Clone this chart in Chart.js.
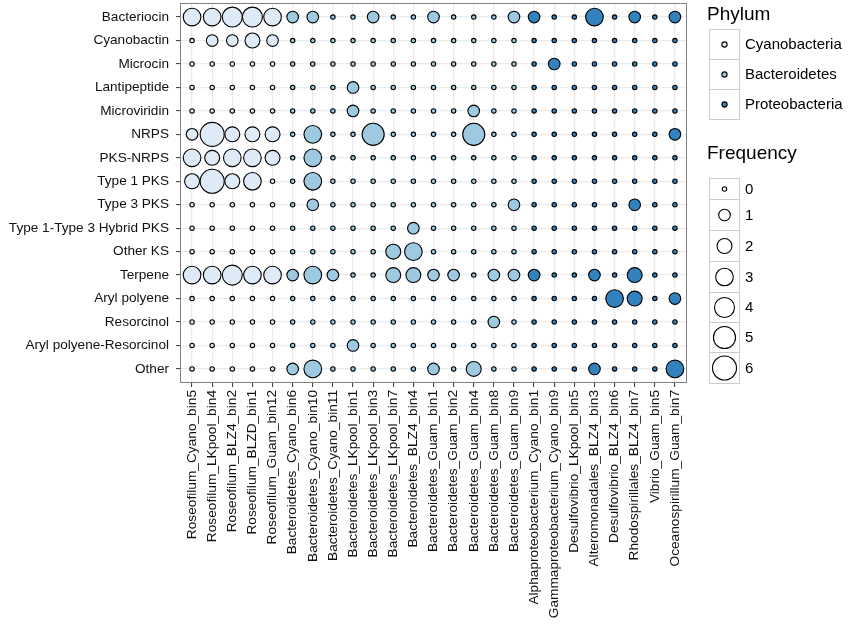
<!DOCTYPE html>
<html>
<head>
<meta charset="utf-8">
<script src="https://cdn.jsdelivr.net/npm/chart.js@4.4.0/dist/chart.umd.min.js"></script>
<style>
  body { margin: 0; background: #fff; }
  canvas { display: block; }
</style>
</head>
<body>
<canvas id="bgcChart" width="856" height="631"></canvas>
<script>
// genome bins along the x axis
var bins = [
  'Roseofilum_Cyano_bin5', 'Roseofilum_LKpool_bin4', 'Roseofilum_BLZ4_bin2', 'Roseofilum_BLZD_bin1',
  'Roseofilum_Guam_bin12', 'Bacteroidetes_Cyano_bin6', 'Bacteroidetes_Cyano_bin10', 'Bacteroidetes_Cyano_bin11',
  'Bacteroidetes_LKpool_bin1', 'Bacteroidetes_LKpool_bin3', 'Bacteroidetes_LKpool_bin7', 'Bacteroidetes_BLZ4_bin4',
  'Bacteroidetes_Guam_bin1', 'Bacteroidetes_Guam_bin2', 'Bacteroidetes_Guam_bin4', 'Bacteroidetes_Guam_bin8',
  'Bacteroidetes_Guam_bin9', 'Alphaproteobacterium_Cyano_bin1', 'Gammaproteobacterium_Cyano_bin9',
  'Desulfovibrio_LKpool_bin5', 'Alteromonadales_BLZ4_bin3', 'Desulfovibrio_BLZ4_bin6', 'Rhodospirillales_BLZ4_bin7',
  'Vibrio_Guam_bin5', 'Oceanospirillum_Guam_bin7'
];

var binPhylum = [
  'Cyanobacteria', 'Cyanobacteria', 'Cyanobacteria', 'Cyanobacteria', 'Cyanobacteria',
  'Bacteroidetes', 'Bacteroidetes', 'Bacteroidetes', 'Bacteroidetes', 'Bacteroidetes', 'Bacteroidetes',
  'Bacteroidetes', 'Bacteroidetes', 'Bacteroidetes', 'Bacteroidetes', 'Bacteroidetes', 'Bacteroidetes',
  'Proteobacteria', 'Proteobacteria', 'Proteobacteria', 'Proteobacteria', 'Proteobacteria', 'Proteobacteria',
  'Proteobacteria', 'Proteobacteria'
];

// cluster types, top to bottom
var clusterTypes = [
  'Bacteriocin', 'Cyanobactin', 'Microcin', 'Lantipeptide', 'Microviridin', 'NRPS', 'PKS-NRPS',
  'Type 1 PKS', 'Type 3 PKS', 'Type 1-Type 3 Hybrid PKS', 'Other KS', 'Terpene', 'Aryl polyene',
  'Resorcinol', 'Aryl polyene-Resorcinol', 'Other'
];

// one row per cluster type, one count per bin (same order as bins)
var frequency = [
  [3, 3, 4, 4, 3, 1, 1, 0, 0, 1, 0, 0, 1, 0, 0, 0, 1, 1, 0, 0, 3, 0, 1, 0, 1], // Bacteriocin
  [0, 1, 1, 2, 1, 0, 0, 0, 0, 0, 0, 0, 0, 0, 0, 0, 0, 0, 0, 0, 0, 0, 0, 0, 0], // Cyanobactin
  [0, 0, 0, 0, 0, 0, 0, 0, 0, 0, 0, 0, 0, 0, 0, 0, 0, 0, 1, 0, 0, 0, 0, 0, 0], // Microcin
  [0, 0, 0, 0, 0, 0, 0, 0, 1, 0, 0, 0, 0, 0, 0, 0, 0, 0, 0, 0, 0, 0, 0, 0, 0], // Lantipeptide
  [0, 0, 0, 0, 0, 0, 0, 0, 1, 0, 0, 0, 0, 0, 1, 0, 0, 0, 0, 0, 0, 0, 0, 0, 0], // Microviridin
  [1, 6, 2, 2, 2, 0, 3, 0, 0, 5, 0, 0, 0, 0, 5, 0, 0, 0, 0, 0, 0, 0, 0, 0, 1], // NRPS
  [3, 2, 3, 3, 2, 0, 3, 0, 0, 0, 0, 0, 0, 0, 0, 0, 0, 0, 0, 0, 0, 0, 0, 0, 0], // PKS-NRPS
  [2, 6, 2, 3, 0, 0, 3, 0, 0, 0, 0, 0, 0, 0, 0, 0, 0, 0, 0, 0, 0, 0, 0, 0, 0], // Type 1 PKS
  [0, 0, 0, 0, 0, 0, 1, 0, 0, 0, 0, 0, 0, 0, 0, 0, 1, 0, 0, 0, 0, 0, 1, 0, 0], // Type 3 PKS
  [0, 0, 0, 0, 0, 0, 0, 0, 0, 0, 0, 1, 0, 0, 0, 0, 0, 0, 0, 0, 0, 0, 0, 0, 0], // Type 1-Type 3 Hybrid PKS
  [0, 0, 0, 0, 0, 0, 0, 0, 0, 0, 2, 3, 0, 0, 0, 0, 0, 0, 0, 0, 0, 0, 0, 0, 0], // Other KS
  [3, 3, 4, 3, 3, 1, 3, 1, 0, 0, 2, 2, 1, 1, 0, 1, 1, 1, 0, 0, 1, 0, 2, 0, 0], // Terpene
  [0, 0, 0, 0, 0, 0, 0, 0, 0, 0, 0, 0, 0, 0, 0, 0, 0, 0, 0, 0, 0, 3, 2, 0, 1], // Aryl polyene
  [0, 0, 0, 0, 0, 0, 0, 0, 0, 0, 0, 0, 0, 0, 0, 1, 0, 0, 0, 0, 0, 0, 0, 0, 0], // Resorcinol
  [0, 0, 0, 0, 0, 0, 0, 0, 1, 0, 0, 0, 0, 0, 0, 0, 0, 0, 0, 0, 0, 0, 0, 0, 0], // Aryl polyene-Resorcinol
  [0, 0, 0, 0, 0, 1, 3, 0, 0, 0, 0, 0, 1, 0, 2, 0, 0, 0, 0, 0, 1, 0, 0, 0, 3]  // Other
];

var phyla = ['Cyanobacteria', 'Bacteroidetes', 'Proteobacteria'];
var phylumColors = ['#deebf7', '#9ecae1', '#3182bd'];
var frequencyBreaks = [0, 1, 2, 3, 4, 5, 6];

var FONT = '"Liberation Sans", Arial, Helvetica, sans-serif';
Chart.defaults.font.family = FONT;

// area grows with the count, zero still gets a small dot
function bubbleRadius(v) {
  if (v === 0) return 2.2;
  return Math.sqrt(11.5 + 22.1 * v);
}

var datasets = phyla.map(function(name, p) {
  var points = [];
  for (var i = 0; i < clusterTypes.length; i++) {
    for (var j = 0; j < bins.length; j++) {
      if (binPhylum[j] !== name) continue;
      points.push({x: j, y: i, r: bubbleRadius(frequency[i][j])});
    }
  }
  return {
    label: name,
    data: points,
    backgroundColor: phylumColors[p],
    borderColor: '#000',
    borderWidth: 1.1,
    clip: false
  };
});

function integerTicks(count) {
  return function(scale) {
    var t = [];
    for (var k = 0; k < count; k++) t.push({value: k});
    scale.ticks = t;
  };
}

// panel frame plus the two ggplot-style legends on the right
var ggDecor = {
  id: 'ggDecor',
  afterDatasetsDraw: function(chart) {
    var a = chart.chartArea, ctx = chart.ctx;
    ctx.save();
    ctx.strokeStyle = '#7f7f7f';
    ctx.lineWidth = 1;
    ctx.strokeRect(a.left + 0.5, a.top + 0.5, a.right - a.left - 1, a.bottom - a.top - 1);
    ctx.restore();
  },
  afterDraw: function(chart) {
    var ctx = chart.ctx;
    var boxX = chart.chartArea.right + 22, boxW = 31;
    ctx.save();
    ctx.textBaseline = 'middle';
    ctx.textAlign = 'left';

    function key(top, h, label, fill, r) {
      ctx.fillStyle = '#fff';
      ctx.fillRect(boxX, top, boxW, h);
      ctx.strokeStyle = '#cccccc';
      ctx.lineWidth = 1;
      ctx.strokeRect(boxX + 0.5, top + 0.5, boxW - 1, h);
      ctx.beginPath();
      ctx.arc(boxX + boxW / 2, top + h / 2 + 0.5, r, 0, Math.PI * 2);
      ctx.fillStyle = fill;
      ctx.fill();
      ctx.strokeStyle = '#000';
      ctx.lineWidth = 1.1;
      ctx.stroke();
      ctx.fillStyle = '#000';
      ctx.font = '15px ' + FONT;
      ctx.fillText(label, boxX + boxW + 5, top + h / 2 + 1);
    }

    ctx.fillStyle = '#000';
    ctx.font = '19px ' + FONT;
    ctx.fillText('Phylum', boxX - 2, 15);
    var top = 29;
    phyla.forEach(function(name, p) {
      key(top, 30, name, phylumColors[p], 2.6);
      top += 30;
    });

    ctx.fillStyle = '#000';
    ctx.font = '19px ' + FONT;
    ctx.fillText('Frequency', boxX - 2, 154);
    var heights = [21, 31, 31, 31, 30, 30, 31];
    top = 178;
    frequencyBreaks.forEach(function(v, k) {
      key(top, heights[k], String(v), '#fff', bubbleRadius(v));
      top += heights[k];
    });
    ctx.restore();
  }
};

new Chart(document.getElementById('bgcChart'), {
  type: 'bubble',
  data: { datasets: datasets },
  plugins: [ggDecor],
  options: {
    responsive: false,
    animation: false,
    events: [],
    layout: { autoPadding: false, padding: { top: 3, right: 169, left: 0, bottom: 0 } },
    plugins: { legend: { display: false }, tooltip: { enabled: false } },
    scales: {
      x: {
        type: 'linear',
        min: -0.6,
        max: bins.length - 0.4,
        afterBuildTicks: integerTicks(bins.length),
        afterFit: function(scale) {
          scale.height = 248;
          scale.paddingLeft = 0;
          scale.paddingRight = 0;
        },
        border: { display: false },
        grid: { color: '#ebebeb', lineWidth: 1.2, tickColor: '#333', tickLength: 4, tickWidth: 1 },
        ticks: {
          autoSkip: false,
          maxRotation: 90,
          minRotation: 90,
          padding: 3,
          color: '#111',
          font: { size: 13.7 },
          callback: function(v) { return bins[v]; }
        }
      },
      y: {
        type: 'linear',
        reverse: true,
        min: -0.6,
        max: clusterTypes.length - 0.4,
        afterBuildTicks: integerTicks(clusterTypes.length),
        afterFit: function(scale) {
          scale.width = 180;
          scale.paddingTop = 0;
          scale.paddingBottom = 0;
        },
        border: { display: false },
        grid: { color: '#ebebeb', lineWidth: 1.2, tickColor: '#333', tickLength: 4, tickWidth: 1 },
        ticks: {
          autoSkip: false,
          padding: 7,
          color: '#111',
          font: { size: 13.6 },
          callback: function(v) { return clusterTypes[v]; }
        }
      }
    }
  }
});
</script>
</body>
</html>
